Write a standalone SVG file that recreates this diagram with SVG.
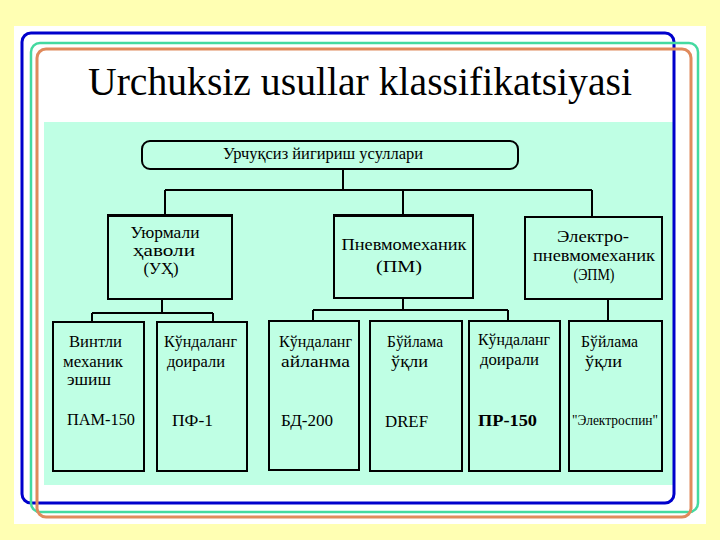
<svg xmlns="http://www.w3.org/2000/svg" width="720" height="540" viewBox="0 0 720 540" font-family="'Liberation Serif', 'DejaVu Serif', serif">
<style>
text{font-family:'Liberation Serif','DejaVu Serif',serif;fill:#000;text-anchor:middle}
.s{font-size:16px}
.m{font-size:17px}
.box{fill:none;stroke:#000;stroke-width:2}
.ln{fill:none;stroke:#000;stroke-width:2}
</style>
<rect x="0" y="0" width="720" height="540" fill="#FFFFB3"/>
<rect x="14" y="26" width="692" height="498" fill="#FFFFFF"/>
<rect x="44" y="122" width="629" height="363" fill="#BFFFE4"/>
<g id="frames" fill="none">
<rect x="22" y="33" width="652" height="470" rx="9" stroke="#0000CC" stroke-width="3"/>
<rect x="31" y="43" width="667" height="469" rx="9" stroke="#44D9A0" stroke-width="2.5"/>
<rect x="37" y="49" width="654" height="468" rx="9" stroke="#E08A5C" stroke-width="3"/>
</g>
<text id="title" x="360" y="95" font-size="41" textLength="544" lengthAdjust="spacingAndGlyphs">Urchuksiz usullar klassifikatsiyasi</text>
<g id="connectors" class="ln">
<path d="M343 169V190M165 190H592M165 190V215M403 190V215M592 190V217"/>
<path d="M162 299V313M92 313H213M92 313V322M213 313V322"/>
<path d="M403 298V310M313 310H508M313 310V321M508 310V321"/>
<path d="M608 299V321"/>
</g>
<g id="root">
<rect x="142" y="141" width="376" height="28" rx="8" class="box"/>
<text x="323" y="159" class="s" textLength="200" lengthAdjust="spacingAndGlyphs">Урчуқсиз йигириш усуллари</text>
</g>
<g id="uh">
<rect x="108" y="215" width="124" height="84" class="box"/>
<path d="M108 215.5H232" stroke="#000" stroke-width="3"/>
<text x="165" y="238" class="m" textLength="69" lengthAdjust="spacingAndGlyphs">Уюрмали</text>
<text x="164" y="256" class="m" textLength="62" lengthAdjust="spacingAndGlyphs">ҳаволи</text>
<text x="161" y="274" class="m" textLength="35" lengthAdjust="spacingAndGlyphs">(УҲ)</text>
</g>
<g id="pm">
<rect x="334" y="215" width="139" height="83" class="box"/>
<path d="M334 215.5H473" stroke="#000" stroke-width="3"/>
<text x="404" y="250" class="m" textLength="125" lengthAdjust="spacingAndGlyphs">Пневмомеханик</text>
<text x="399" y="272" class="m" textLength="46" lengthAdjust="spacingAndGlyphs">(ПМ)</text>
</g>
<g id="epm">
<rect x="525" y="217" width="137" height="82" class="box"/>
<text x="593" y="242" class="m" textLength="72" lengthAdjust="spacingAndGlyphs">Электро-</text>
<text x="594" y="261" class="m" textLength="122" lengthAdjust="spacingAndGlyphs">пневмомеханик</text>
<text x="594" y="280" class="m" textLength="41" lengthAdjust="spacingAndGlyphs">(ЭПМ)</text>
</g>
<g id="pam150">
<rect x="53" y="322" width="91" height="149" class="box"/>
<text x="95.5" y="347" class="s" textLength="53" lengthAdjust="spacingAndGlyphs">Винтли</text>
<text x="93" y="367" class="s" textLength="60" lengthAdjust="spacingAndGlyphs">механик</text>
<text x="89" y="385" class="s" textLength="44" lengthAdjust="spacingAndGlyphs">эшиш</text>
<text x="101" y="425" class="s" textLength="68" lengthAdjust="spacingAndGlyphs">ПАМ-150</text>
</g>
<g id="pf1">
<rect x="157" y="322" width="90" height="149" class="box"/>
<text x="200.5" y="347" class="s" textLength="73" lengthAdjust="spacingAndGlyphs">Кўндаланг</text>
<text x="196" y="367" class="s" textLength="58" lengthAdjust="spacingAndGlyphs">доирали</text>
<text x="192.5" y="426" class="s" textLength="41" lengthAdjust="spacingAndGlyphs">ПФ-1</text>
</g>
<g id="bd200">
<rect x="269" y="321" width="90" height="149" class="box"/>
<text x="315.5" y="347" class="s" textLength="73" lengthAdjust="spacingAndGlyphs">Кўндаланг</text>
<text x="315.5" y="367" class="s" textLength="69" lengthAdjust="spacingAndGlyphs">айланма</text>
<text x="307" y="426" class="s" textLength="52" lengthAdjust="spacingAndGlyphs">БД-200</text>
</g>
<g id="dref">
<rect x="370" y="321" width="92" height="150" class="box"/>
<text x="415" y="347" class="s" textLength="56" lengthAdjust="spacingAndGlyphs">Бўйлама</text>
<text x="409.5" y="367" class="s" textLength="37" lengthAdjust="spacingAndGlyphs">ўқли</text>
<text x="406.5" y="427" class="s" textLength="43" lengthAdjust="spacingAndGlyphs">DREF</text>
</g>
<g id="pr150">
<rect x="469" y="321" width="91" height="150" class="box"/>
<text x="514" y="345" class="s" textLength="72" lengthAdjust="spacingAndGlyphs">Кўндаланг</text>
<text x="509.5" y="365" class="s" textLength="59" lengthAdjust="spacingAndGlyphs">доирали</text>
<text x="507.5" y="426" class="s" font-weight="bold" textLength="59" lengthAdjust="spacingAndGlyphs">ПР-150</text>
</g>
<g id="elektrospin">
<rect x="569" y="321" width="93" height="150" class="box" stroke-width="2.5"/>
<text x="609.5" y="347" class="s" textLength="57" lengthAdjust="spacingAndGlyphs">Бўйлама</text>
<text x="603.5" y="367" class="s" textLength="37" lengthAdjust="spacingAndGlyphs">ўқли</text>
<text x="615" y="425" font-size="14" textLength="86" lengthAdjust="spacingAndGlyphs">"Электроспин"</text>
</g>
</svg>
